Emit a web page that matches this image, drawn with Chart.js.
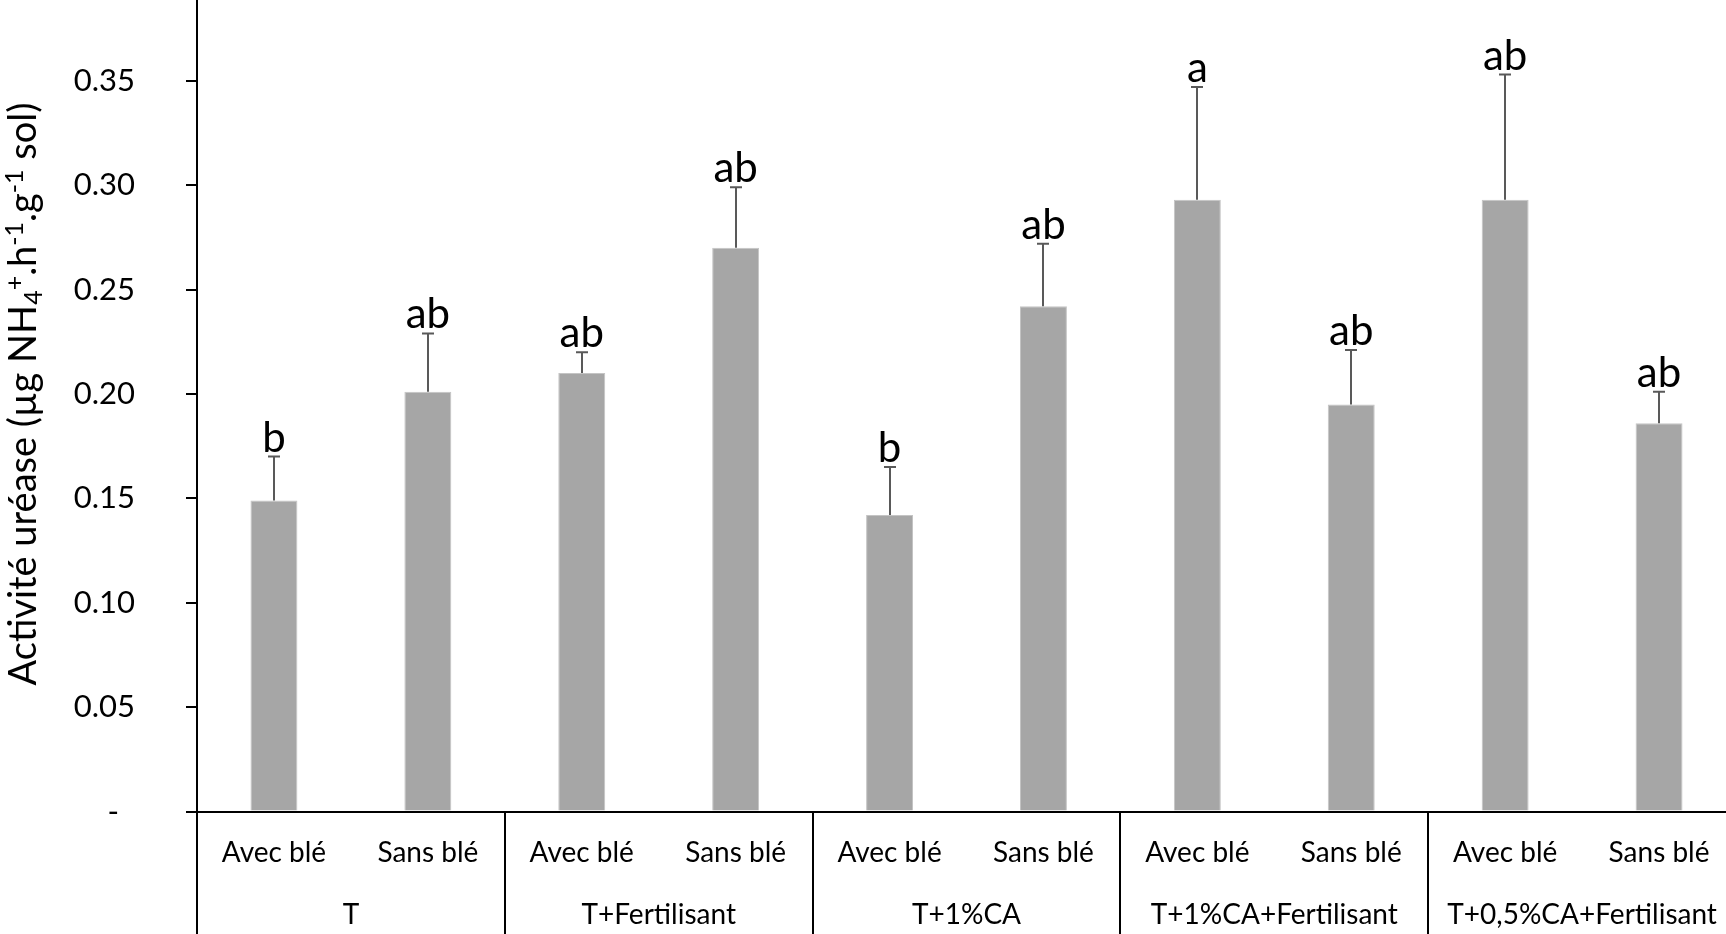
<!DOCTYPE html>
<html lang="fr">
<head>
<meta charset="utf-8">
<title>Activité uréase</title>
<script src="https://cdn.jsdelivr.net/npm/chart.js@4/dist/chart.umd.min.js"></script>
<style>
  html, body { margin: 0; padding: 0; background: #ffffff; overflow: hidden; }
  #wrap { width: 1736px; height: 934px; }
</style>
</head>
<body>
<div id="wrap"><canvas id="chart" width="1736" height="934"></canvas></div>
<script>
// Sub-treatments along the x axis (one bar each)
const categories = ['Avec blé', 'Sans blé', 'Avec blé', 'Sans blé', 'Avec blé', 'Sans blé',
                    'Avec blé', 'Sans blé', 'Avec blé', 'Sans blé'];
// Treatment groups, two bars per group
const groups = ['T', 'T+Fertilisant', 'T+1%CA', 'T+1%CA+Fertilisant', 'T+0,5%CA+Fertilisant'];
// Mean urease activity (µg NH4+ h-1 g-1 soil)
const means = [0.149, 0.201, 0.210, 0.270, 0.142, 0.242, 0.293, 0.195, 0.293, 0.186];
// Standard deviation (upper error bar)
const errors = [0.021, 0.028, 0.010, 0.029, 0.023, 0.030, 0.054, 0.026, 0.060, 0.015];
// Significance letters
const letters = ['b', 'ab', 'ab', 'ab', 'b', 'ab', 'a', 'ab', 'ab', 'ab'];
// Y axis tick values
const yTicks = [0, 0.05, 0.10, 0.15, 0.20, 0.25, 0.30, 0.35];

const Y_MAX = 0.3887;
const FONT = 'Lato, "Open Sans", sans-serif';

const extras = {
  id: 'extras',
  afterDatasetsDraw(chart) {
    const ctx = chart.ctx;
    const x = chart.scales.x;
    const y = chart.scales.y;
    const area = chart.chartArea;
    const slot = x.getPixelForValue(1) - x.getPixelForValue(0);

    ctx.save();
    // error bars
    ctx.strokeStyle = '#595959';
    ctx.lineWidth = 2;
    means.forEach((m, i) => {
      const cx = Math.round(x.getPixelForValue(i));
      const y0 = y.getPixelForValue(m);
      const y1 = y.getPixelForValue(m + errors[i]);
      ctx.beginPath();
      ctx.moveTo(cx, y0);
      ctx.lineTo(cx, y1);
      ctx.moveTo(cx - 6, y1);
      ctx.lineTo(cx + 6, y1);
      ctx.stroke();
    });

    // significance letters
    ctx.fillStyle = '#000000';
    ctx.font = '42px ' + FONT;
    ctx.textAlign = 'center';
    ctx.textBaseline = 'alphabetic';
    letters.forEach((t, i) => {
      const cx = x.getPixelForValue(i);
      const y1 = y.getPixelForValue(means[i] + errors[i]);
      ctx.fillText(t, cx, y1 - 5);
    });

    // group dividers below the axis
    ctx.strokeStyle = '#000000';
    ctx.lineWidth = 2;
    for (let g = 0; g <= groups.length; g++) {
      const px = Math.round(x.getPixelForValue(g * 2) - slot / 2);
      ctx.beginPath();
      ctx.moveTo(px, area.bottom);
      ctx.lineTo(px, chart.height);
      ctx.stroke();
    }

    // group labels
    ctx.font = '28px ' + FONT;
    groups.forEach((g, k) => {
      const cx = (x.getPixelForValue(k * 2) + x.getPixelForValue(k * 2 + 1)) / 2;
      ctx.fillText(g, cx, 924);
    });

    // y axis title with sub/superscripts
    const base = 38, small = 25;
    const parts = [
      { t: 'Activité uréase (µg NH', s: 0 },
      { t: '4', s: -1 },
      { t: '+', s: 1 },
      { t: '.h', s: 0 },
      { t: '-1', s: 1 },
      { t: '.g', s: 0 },
      { t: '-1', s: 1 },
      { t: ' sol)', s: 0 }
    ];
    let total = 0;
    parts.forEach(p => {
      ctx.font = (p.s ? small : base) + 'px ' + FONT;
      p.w = ctx.measureText(p.t).width;
      total += p.w;
    });
    ctx.translate(36, 394);
    ctx.rotate(-Math.PI / 2);
    ctx.textAlign = 'left';
    let cur = -total / 2;
    parts.forEach(p => {
      ctx.font = (p.s ? small : base) + 'px ' + FONT;
      const dy = p.s === 1 ? -13 : (p.s === -1 ? 6 : 0);
      ctx.fillText(p.t, cur, dy);
      cur += p.w;
    });
    ctx.restore();
  }
};

new Chart(document.getElementById('chart'), {
  type: 'bar',
  data: {
    labels: categories,
    datasets: [{
      data: means,
      backgroundColor: '#a6a6a6',
      borderColor: '#c4c4c4',
      borderWidth: 1,
      barPercentage: 0.305,
      categoryPercentage: 1.0
    }]
  },
  options: {
    responsive: false,
    animation: false,
    devicePixelRatio: 1,
    layout: { padding: 0 },
    plugins: { legend: { display: false }, tooltip: { enabled: false } },
    scales: {
      x: {
        type: 'category',
        offset: true,
        grid: { display: false, drawTicks: false },
        border: { display: true, color: '#000000', width: 2 },
        ticks: {
          color: '#000000',
          font: { family: FONT, size: 28 },
          padding: 25,
          maxRotation: 0,
          autoSkip: false
        },
        afterFit(scale) {
          scale.height = 122.5;
          scale.paddingLeft = 0;
          scale.paddingRight = 0;
        }
      },
      y: {
        min: 0,
        max: Y_MAX,
        grid: { display: true, drawOnChartArea: false, drawTicks: true, tickLength: 11, color: '#000000', lineWidth: 2 },
        border: { display: true, color: '#000000', width: 2 },
        ticks: {
          color: '#000000',
          font: { family: FONT, size: 31 },
          padding: 51,
          callback: v => (v === 0 ? '-  ' : v.toFixed(2))
        },
        afterBuildTicks(scale) {
          scale.ticks = yTicks.map(v => ({ value: v }));
        },
        afterFit(scale) {
          scale.width = 197;
          scale.paddingTop = 0;
          scale.paddingBottom = 0;
        }
      }
    }
  },
  plugins: [extras]
});
</script>
</body>
</html>
